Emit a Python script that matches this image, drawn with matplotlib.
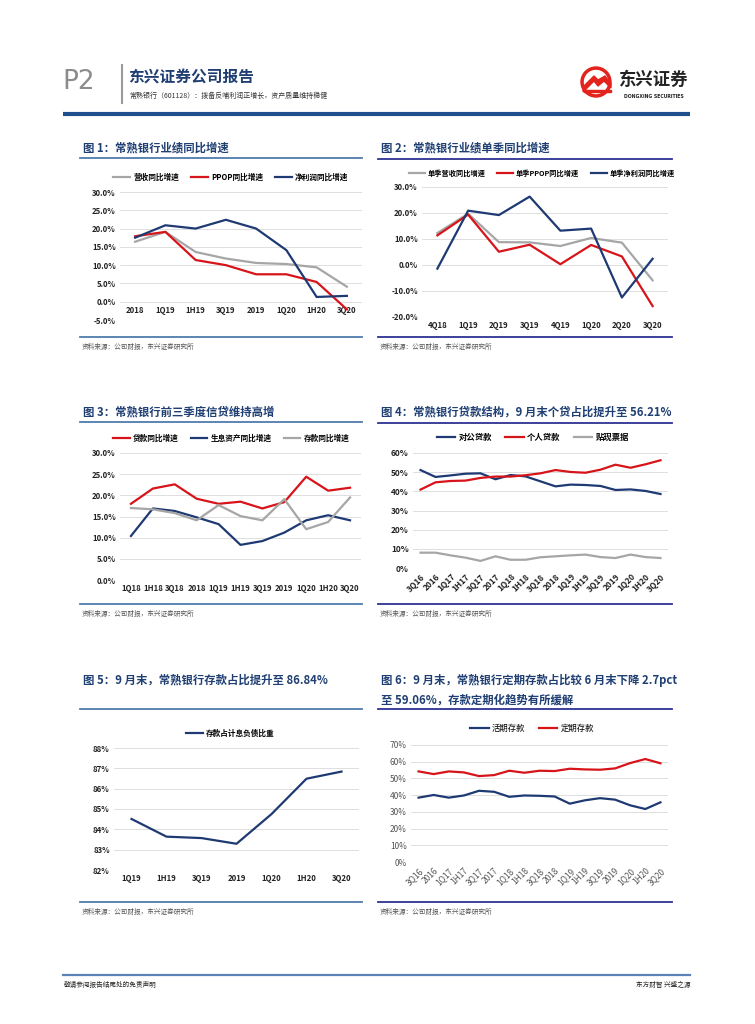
import matplotlib.pyplot as plt
from matplotlib.patches import Circle, Polygon

plt.rcParams['font.family'] = ['Noto Sans CJK SC', 'DejaVu Sans']

W, H = 755, 1024

NAVY = '#1F3A73'
RED = '#D7141A'
GRAY = '#A6A6A6'
TITLE_BLUE = '#1F3F73'
GRID = '#D9D9D9'
LINE_A = '#4F7CAC'   # underline, left column
LINE_B = '#2E3192'   # underline, right column
SOURCE = '资料来源：公司财报，东兴证券研究所'

# ---- chart 1: cumulative yoy growth
cats1 = ['2018', '1Q19', '1H19', '3Q19', '2019', '1Q20', '1H20', '3Q20']
rev1 = [16.4, 19.1, 13.6, 11.8, 10.6, 10.3, 9.4, 4.1]
ppop1 = [17.9, 19.1, 11.4, 10.0, 7.5, 7.5, 5.4, -2.1]
np1 = [17.5, 20.9, 20.0, 22.4, 20.0, 14.1, 1.3, 1.6]

# ---- chart 2: single quarter yoy growth
cats2 = ['4Q18', '1Q19', '2Q19', '3Q19', '4Q19', '1Q20', '2Q20', '3Q20']
rev2 = [12.3, 19.7, 8.8, 8.7, 7.3, 10.4, 8.6, -5.9]
ppop2 = [11.4, 19.4, 5.1, 7.8, 0.3, 7.7, 3.3, -15.8]
np2 = [-1.4, 20.9, 19.2, 26.3, 13.2, 14.0, -12.5, 2.4]

# ---- chart 3: loans / earning assets / deposits growth
cats3 = ['1Q18', '1H18', '3Q18', '2018', '1Q19', '1H19', '3Q19', '2019',
         '1Q20', '1H20', '3Q20']
loan3 = [18.0, 21.6, 22.6, 19.2, 18.0, 18.5, 16.9, 18.4, 24.4, 21.1, 21.8]
asset3 = [10.4, 16.9, 16.3, 14.8, 13.2, 8.3, 9.2, 11.2, 14.1, 15.3, 14.1]
dep3 = [17.0, 16.7, 15.8, 14.1, 17.7, 15.1, 14.1, 19.1, 12.0, 13.7, 19.5]

# ---- chart 4 / 6: quarterly structure
cats4 = ['3Q16', '2016', '1Q17', '1H17', '3Q17', '2017', '1Q18', '1H18',
         '3Q18', '2018', '1Q19', '1H19', '3Q19', '2019', '1Q20', '1H20',
         '3Q20']
corp4 = [51.1, 47.5, 48.3, 49.2, 49.4, 46.3, 48.5, 47.8, 45.2, 42.6, 43.5,
         43.3, 42.8, 40.7, 41.0, 40.2, 38.6]
retail4 = [40.9, 44.7, 45.4, 45.6, 47.0, 47.7, 47.7, 48.4, 49.4, 51.1, 50.1,
           49.7, 51.3, 53.9, 52.3, 54.1, 56.21]
bill4 = [8.0, 8.0, 6.6, 5.4, 3.7, 6.1, 4.3, 4.3, 5.6, 6.1, 6.6, 7.0, 5.7,
         5.2, 7.0, 5.7, 5.2]

# ---- chart 5: deposits / interest-bearing liabilities
cats5 = ['1Q19', '1H19', '3Q19', '2019', '1Q20', '1H20', '3Q20']
dep5 = [84.51, 83.64, 83.57, 83.29, 84.75, 86.49, 86.84]

# ---- chart 6: demand / time deposits
demand6 = [38.5, 40.1, 38.5, 39.8, 42.6, 42.0, 39.0, 39.8, 39.6, 39.2, 34.9,
           36.9, 38.2, 37.3, 33.9, 31.7, 35.7]
time6 = [54.2, 52.6, 54.2, 53.6, 51.4, 52.0, 54.6, 53.4, 54.6, 54.4, 55.8,
         55.4, 55.2, 56.0, 59.2, 61.6, 59.06]


def px_axes(fig, x0, y0, x1, y1):
    """Add axes from pixel box (top-left origin)."""
    return fig.add_axes([x0 / W, 1 - y1 / H, (x1 - x0) / W, (y1 - y0) / H])


def style_axes(ax, cats, ylim, yticks, fmt, bold=True, rot=0,
               xcross=None, tcolor='#222222', fs=5.6):
    """Excel-like look: grid only, no spines, no ticks."""
    weight = 'bold' if bold else 'normal'
    for s in ax.spines.values():
        s.set_visible(False)
    # must come first, set_position resets the ticks
    if xcross is not None:
        ax.spines['bottom'].set_position(('data', xcross))
    ax.set_xlim(-0.5, len(cats) - 0.5)
    ax.set_ylim(*ylim)
    ax.set_yticks(yticks)
    ax.set_yticklabels([fmt.format(v) for v in yticks], fontsize=fs,
                       fontweight=weight, color=tcolor)
    ax.set_xticks(range(len(cats)))
    if rot:
        ax.set_xticklabels(cats, fontsize=fs, fontweight=weight, color=tcolor,
                           rotation=rot, ha='right', rotation_mode='anchor')
    else:
        ax.set_xticklabels(cats, fontsize=fs, fontweight=weight, color=tcolor)
    ax.tick_params(length=0, pad=3)
    ax.grid(True, axis='y', color=GRID, lw=0.6)
    ax.set_axisbelow(True)
    ax.patch.set_alpha(0)


def panel_frame(bg, x0, x1, ytitle, yline, ybottom, title, lcolor):
    """Title, underline, bottom rule and source note of one panel."""
    if isinstance(title, str):
        title = [title]
    for i, t in enumerate(title):
        txt = bg.text(x0 + 3, ytitle + i * 20, t, fontsize=8.2,
                      fontweight='bold', color=TITLE_BLUE, va='center',
                      ha='left')
        txt.set_clip_on(False)
    bg.plot([x0, x1], [yline, yline], color=lcolor, lw=1.3)
    bg.plot([x0, x1], [ybottom, ybottom], color=lcolor, lw=1.3)
    bg.text(x0 + 2, ybottom + 10, SOURCE, fontsize=4.8, color='#555555',
            va='center', ha='left')


def add_legend(fig, bg, handles, labels, cx, cy, bold=True, fs=5.5):
    fig.legend(handles, labels, loc='center', bbox_to_anchor=(cx, cy),
               bbox_transform=bg.transData, ncol=len(labels), frameon=False,
               handlelength=2.2, handletextpad=0.4, columnspacing=1.6,
               prop={'size': fs, 'weight': 'bold' if bold else 'normal'})


fig = plt.figure(figsize=(W / 100, H / 100), dpi=100)
bg = fig.add_axes([0, 0, 1, 1])
bg.set_xlim(0, W)
bg.set_ylim(H, 0)
bg.axis('off')

# ---- page header
bg.text(62, 82, 'P2', fontsize=19, color='#8C8C8C', va='center', ha='left',
        family='DejaVu Sans')
bg.plot([122, 122], [65, 103], color='#9A9A9A', lw=1.5)
bg.text(128, 77, '东兴证券公司报告', fontsize=11.3, fontweight='bold',
        color=TITLE_BLUE, va='center', ha='left')
bg.text(129, 96, '常熟银行（601128）：拨备反哺利润正增长，资产质量维持稳健',
        fontsize=5, color='#333333', va='center', ha='left')
bg.plot([63, 690], [114, 114], color='#1F4E8C', lw=3.0,
        solid_capstyle='butt')

# logo
bg.add_patch(Circle((596, 82), 15, color='#E3231D'))
bg.add_patch(Circle((596, 82), 11.5, color='white'))
bg.add_patch(Polygon([[583, 87], [594, 76], [598, 80], [605, 76], [611, 84],
                      [611, 88], [604, 81], [598, 86], [594, 81], [585, 90]],
                     closed=True, color='#E3231D'))
bg.add_patch(Polygon([[582, 90], [611, 90], [611, 92], [584, 92]],
                     closed=True, color='#E3231D'))
bg.text(654, 80, '东兴证券', fontsize=12.5, fontweight='bold', color='#222222',
        va='center', ha='center')
bg.text(654, 96, 'DONGXING SECURITIES', fontsize=3.3, fontweight='bold',
        color='#222222', va='center', ha='center', family='DejaVu Sans')

# ---- footer
bg.plot([63, 690], [975, 975], color='#5A84B5', lw=1.6)
bg.text(64, 985, '敬请参阅报告结尾处的免责声明', fontsize=4.8,
        color='#222222', va='center', ha='left')
bg.text(690, 985, '东方财智 兴盛之源', fontsize=4.8, color='#222222',
        va='center', ha='right')

# ---- panel frames
panel_frame(bg, 80, 362, 148, 158, 337, '图 1：常熟银行业绩同比增速', LINE_A)
panel_frame(bg, 378, 672, 148, 159, 337, '图 2：常熟银行业绩单季同比增速',
            LINE_B)
panel_frame(bg, 80, 362, 412, 422, 604, '图 3：常熟银行前三季度信贷维持高增',
            LINE_A)
panel_frame(bg, 378, 672, 412, 423, 604,
            '图 4：常熟银行贷款结构，9 月末个贷占比提升至 56.21%', LINE_B)
panel_frame(bg, 80, 362, 680, 709, 902,
            '图 5：9 月末，常熟银行存款占比提升至 86.84%', LINE_A)
panel_frame(bg, 378, 672, 680, 709, 902,
            ['图 6：9 月末，常熟银行定期存款占比较 6 月末下降 2.7pct',
             '至 59.06%，存款定期化趋势有所缓解'], LINE_B)

LW = 1.6

# ---- chart 1
ax1 = px_axes(fig, 120, 192, 362, 320)
x = range(len(cats1))
h1 = ax1.plot(x, rev1, color=GRAY, lw=LW)[0]
h2 = ax1.plot(x, ppop1, color=RED, lw=LW)[0]
h3 = ax1.plot(x, np1, color=NAVY, lw=LW)[0]
style_axes(ax1, cats1, (-5, 30), range(-5, 31, 5), '{:.1f}%', xcross=0)
add_legend(fig, bg, [h1, h2, h3], ['营收同比增速', 'PPOP同比增速', '净利润同比增速'],
           231, 177)

# ---- chart 2
ax2 = px_axes(fig, 422, 187, 668, 317)
x = range(len(cats2))
h1 = ax2.plot(x, rev2, color=GRAY, lw=LW)[0]
h2 = ax2.plot(x, ppop2, color=RED, lw=LW)[0]
h3 = ax2.plot(x, np2, color=NAVY, lw=LW)[0]
style_axes(ax2, cats2, (-20, 30), range(-20, 31, 10), '{:.1f}%')
add_legend(fig, bg, [h1, h2, h3],
           ['单季营收同比增速', '单季PPOP同比增速', '单季净利润同比增速'], 542, 173,
           fs=5.2)

# ---- chart 3
ax3 = px_axes(fig, 120, 453, 361, 580)
x = range(len(cats3))
h1 = ax3.plot(x, loan3, color=RED, lw=LW)[0]
h2 = ax3.plot(x, asset3, color=NAVY, lw=LW)[0]
h3 = ax3.plot(x, dep3, color=GRAY, lw=LW)[0]
style_axes(ax3, cats3, (0, 30), range(0, 31, 5), '{:.1f}%')
add_legend(fig, bg, [h1, h2, h3], ['贷款同比增速', '生息资产同比增速', '存款同比增速'],
           231, 438)

# ---- chart 4
ax4 = px_axes(fig, 413, 453, 668, 568)
x = range(len(cats4))
h1 = ax4.plot(x, corp4, color=NAVY, lw=LW)[0]
h2 = ax4.plot(x, retail4, color=RED, lw=LW)[0]
h3 = ax4.plot(x, bill4, color=GRAY, lw=LW)[0]
style_axes(ax4, cats4, (0, 60), range(0, 61, 10), '{:d}%', rot=45, fs=6)
add_legend(fig, bg, [h1, h2, h3], ['对公贷款', '个人贷款', '贴现票据'], 533, 437,
           fs=6)

# ---- chart 5
ax5 = px_axes(fig, 114, 748, 359, 870)
x = range(len(cats5))
h1 = ax5.plot(x, dep5, color=NAVY, lw=LW)[0]
style_axes(ax5, cats5, (82, 88), range(82, 89), '{:d}%')
add_legend(fig, bg, [h1], ['存款占计息负债比重'], 230, 733)

# ---- chart 6
ax6 = px_axes(fig, 411, 745, 668, 862)
x = range(len(cats4))
h1 = ax6.plot(x, demand6, color=NAVY, lw=LW)[0]
h2 = ax6.plot(x, time6, color=RED, lw=LW)[0]
style_axes(ax6, cats4, (0, 70), range(0, 71, 10), '{:d}%', bold=False, rot=45,
           tcolor='#555555', fs=6)
add_legend(fig, bg, [h1, h2], ['活期存款', '定期存款'], 532, 728, bold=False,
           fs=6)

fig.savefig('out.png', dpi=100)
